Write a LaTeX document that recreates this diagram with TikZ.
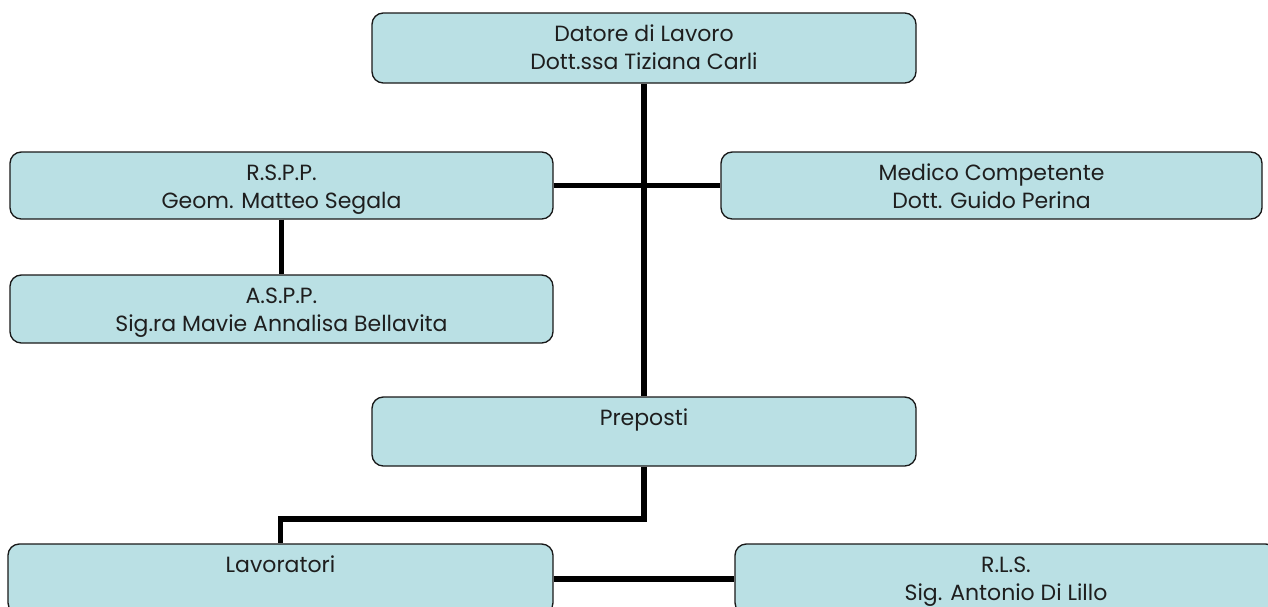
\documentclass[tikz,border=0pt]{standalone}
\usepackage{fontspec}
\setmainfont{Poppins}
\usetikzlibrary{positioning}

\definecolor{boxfill}{RGB}{186,224,228}
\definecolor{boxline}{RGB}{25,25,25}
\definecolor{boxtext}{RGB}{30,30,30}

\newcommand{\boxlines}[2]{\parbox[c][#1][t]{390pt}{\centering\rule{0pt}{21pt}#2}}

\begin{document}
\begin{tikzpicture}[x=0.75pt,y=-0.75pt,
	box node/.style={rectangle,rounded corners=8.5pt,draw=boxline,line width=1pt,
		fill=boxfill,inner sep=0pt,text=boxtext,font=\fontsize{16.5}{21}\selectfont},
	link/.style={line width=4.2pt,draw=black}]
	
	\useasboundingbox (0,0) rectangle (1268,607);
	\clip (0,0) rectangle (1268,607);
	
	\node[box node, minimum width=408pt] (datore) at (644,48) {\boxlines{52.5pt}{Datore di Lavoro\\Dott.ssa Tiziana Carli}};
	\node[box node, minimum width=407.25pt] (rspp) at (281.5,185.5) {\boxlines{50.25pt}{R.S.P.P.\\Geom. Matteo Segala}};
	\node[box node, minimum width=405.75pt] (medico) at (991.5,185.5) {\boxlines{50.25pt}{Medico Competente\\Dott. Guido Perina}};
	\node[box node, minimum width=407.25pt] (aspp) at (281.5,309) {\boxlines{51pt}{A.S.P.P.\\Sig.ra Mavie Annalisa Bellavita}};
	\node[box node, minimum width=408pt] (preposti) at (644,431.5) {\boxlines{51.75pt}{Preposti}};
	\node[box node, minimum width=408.75pt] (lavoratori) at (280.5,579) {\boxlines{52.5pt}{Lavoratori}};
	\node[box node, minimum width=406.5pt] (rls) at (1006,579) {\boxlines{52.5pt}{R.L.S.\\Sig. Antonio Di Lillo}};
	
	\coordinate (elbow) at (280.5,519);
	
	\path[link]
	(datore) edge (preposti)
	(rspp) edge (medico)
	(rspp) edge (aspp)
	(lavoratori) edge (rls);
	\draw[link] (preposti.south) |- (elbow) -- (lavoratori.north);
\end{tikzpicture}
\end{document}
